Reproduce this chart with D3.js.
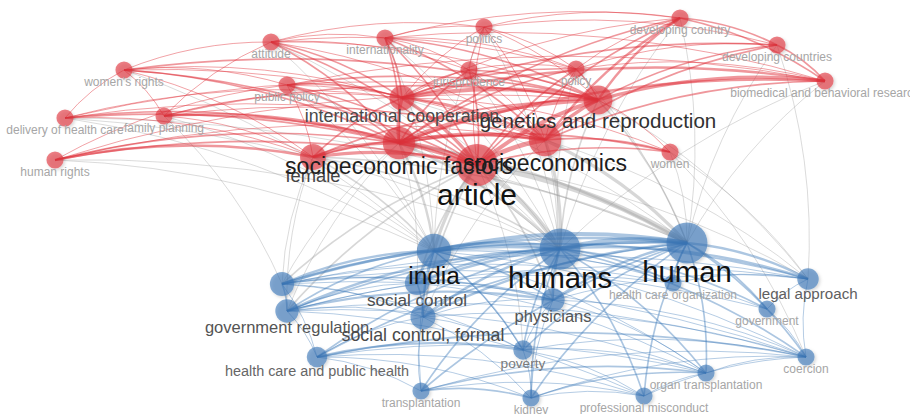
<!DOCTYPE html>
<html>
<head>
<meta charset="utf-8">
<script src="https://cdn.jsdelivr.net/npm/d3@7"></script>
<style>
  html, body { margin: 0; padding: 0; background: #fff; }
  svg { display: block; }
  text { font-family: "Liberation Sans", Arial, sans-serif; }
</style>
</head>
<body>
<script>
// node table (map coordinates, occurrences, cluster)
var nodeKeys = ['att','intl','pol','dcy','dcs','bio','wr','pp','jur','poly','ic','gr','dhc','fp','sef','fem','soc','art','wom','hr',
                'ind','hms','hmn','hco','leg','gov','coe','org','pm','kid','pov','phy','sc','scf','greg','law','hph','tra']
var nodeLabels = ['attitude','internationality','politics','developing country','developing countries','biomedical and behavioral research',
  "women's rights",'public policy','jurisprudence','policy','international cooperation','genetics and reproduction','delivery of health care',
  'family planning','socioeconomic factors','female','socioeconomics','article','women','human rights',
  'india','humans','human','health care organization','legal approach','government','coercion','organ transplantation',
  'professional misconduct','kidney','poverty','physicians','social control','social control, formal','government regulation',
  'legislation','health care and public health','transplantation']
var nodeX = [271,385,484,680,777,825,124,287,469,576,402,598,65,164,399,313,545,477,670,55,
             434,560,687,673,808,767,806,706,644,531,523,553,417,423,287,282,317,421]
var nodeY = [42,38,27,18,45,81,70,85,70,69,98,100,118,116,143,157,140,165,152,160,
             251,249,243,283,279,309,357,373,396,398,350,300,283,317,311,284,357,391]
var nodeWeight = [7,7,7,7,7,7,7,7,7,7,15,20,7,7,25,16,25,42,7,7,
                  28,40,40,7,11,7,7,7,7,7,9,13,14,15,13,14,10,7]
var nodeCluster = [1,1,1,1,1,1,1,1,1,1,1,1,1,1,1,1,1,1,1,1,
                   2,2,2,2,2,2,2,2,2,2,2,2,2,2,2,2,2,2]
var hiddenLabels = ['legislation']

// links [source, target, strength]
var redLinks = [
  ['art','sef',6],['art','soc',6],['art','ic',4],['art','gr',5],['art','fem',4],['sef','soc',5],['sef','ic',4],['sef','gr',6],
  ['sef','fem',4],['soc','gr',4],['soc','ic',3],['ic','gr',5],['gr','bio',4],['ic','bio',3],['sef','bio',3],['soc','bio',2],
  ['gr','dcy',3],['soc','dcy',3],['sef','dcy',2],['art','dcy',2],['gr','dcs',2],['soc','dcs',2],['ic','dcs',2],['dcy','dcs',2],
  ['dcs','bio',2],['dcy','bio',2],['dcy','pol',1],['dcy','intl',1],['att','intl',1],['att','ic',2],['att','sef',2],['att','art',2],
  ['att','soc',1],['att','gr',1],['att','wr',1],['att','fp',1],['att','pol',1],['intl','pol',1],['intl','ic',2],['intl','sef',2],
  ['intl','art',2],['intl','soc',2],['intl','gr',2],['intl','poly',1],['intl','bio',1],['pol','jur',1],['pol','art',1],['pol','soc',1],
  ['pol','gr',1],['pol','ic',1],['pol','poly',1],['pol','dcs',1],['jur','ic',2],['jur','sef',2],['jur','art',2],['jur','gr',2],
  ['jur','soc',1],['jur','poly',1],['poly','gr',2],['poly','sef',2],['poly','art',2],['poly','soc',1],['poly','ic',2],['poly','dcs',1],
  ['poly','bio',1],['pp','ic',2],['pp','sef',2],['pp','art',2],['pp','gr',2],['pp','soc',1],['pp','fem',1],['pp','hr',1],
  ['pp','bio',1],['pp','wr',1],['wr','ic',1],['wr','sef',2],['wr','art',2],['wr','gr',2],['wr','soc',1],['wr','fem',1],
  ['wr','fp',1],['wr','dhc',1],['fp','ic',1],['fp','sef',2],['fp','art',2],['fp','gr',2],['fp','soc',1],['fp','fem',1],
  ['dhc','sef',2],['dhc','art',2],['dhc','gr',1],['dhc','ic',1],['dhc','soc',1],['dhc','fem',1],['hr','fem',3],['hr','sef',2],
  ['hr','art',2],['hr','soc',1],['hr','gr',1],['wom','soc',2],['wom','sef',2],['wom','art',2],['wom','gr',1],['wom','ic',1],
  ['fem','gr',2],['fem','soc',2],['fem','ic',2],['att','jur',1],['att','poly',1],['intl','jur',1],['dcy','poly',1],['dcy','ic',1]
]
var crossLinks = [
  ['art','hms',6],['art','hmn',7],['art','ind',4],['soc','hmn',4],['soc','hms',4],['sef','hms',3],['sef','ind',3],['sef','hmn',3],
  ['fem','hms',2],['fem','ind',2],['fem','hmn',2],['gr','hmn',2],['gr','hms',2],['ic','hms',1],['ic','hmn',1],['art','phy',2],
  ['art','scf',2],['art','sc',2],['art','greg',2],['art','law',2],['art','pov',1],['art','leg',1],['soc','leg',1],['soc','phy',1],
  ['sef','greg',1],['sef','law',1],['fem','law',1],['fem','greg',1],['dhc','hms',1],['dhc','hmn',1],['dhc','ind',1],['hr','hms',1],
  ['hr','ind',1],['att','ind',1],['att','hms',1],['pp','hms',1],['pp','ind',1],['wom','hmn',1],['wom','leg',1],['wom','coe',1],
  ['dcs','hmn',1],['dcs','leg',1],['bio','hmn',1],['bio','hms',1],['dcy','hmn',1],['dcy','hms',1],['pol','ind',1],['pol','hms',1],
  ['jur','hms',1],['poly','hms',1],['poly','hmn',1],['intl','ind',1],['intl','hms',1],['gr','leg',1],['wr','ind',1],['fp','ind',1],
  ['fp','law',1],['soc','scf',1],['sef','sc',1]
]
var blueLinks = [
  ['ind','hms',6],['hms','hmn',6],['ind','hmn',5],['law','hmn',3],['law','ind',3],['law','hms',3],['greg','phy',3],['greg','hms',3],
  ['greg','hmn',2],['greg','ind',2],['hph','pov',3],['hph','coe',2],['hph','hms',2],['hph','hmn',2],['sc','hms',3],['sc','hmn',3],
  ['sc','ind',3],['scf','hms',3],['scf','hmn',3],['scf','ind',3],['sc','scf',2],['phy','hms',3],['phy','hmn',3],['phy','ind',2],
  ['leg','hmn',3],['leg','hms',3],['leg','ind',2],['leg','coe',1],['leg','gov',1],['gov','hmn',2],['gov','hms',2],['coe','hmn',2],
  ['coe','hms',2],['coe','ind',1],['org','hmn',2],['org','hms',2],['org','kid',2],['org','tra',2],['org','pm',1],['pm','hmn',2],
  ['pm','hms',2],['pm','kid',1],['kid','hms',2],['kid','hmn',2],['kid','tra',2],['tra','hms',2],['tra','hmn',2],['tra','ind',1],
  ['pov','hms',2],['pov','hmn',2],['pov','ind',2],['hco','hms',2],['hco','hmn',2],['hco','ind',1],['law','greg',2],['law','phy',2],
  ['law','sc',1],['law','scf',1],['law','leg',1],['law','coe',1],['law','hph',1],['greg','scf',1],['greg','sc',1],['greg','hph',1],
  ['greg','coe',1],['greg','leg',1],['hph','scf',1],['hph','kid',1],['hph','tra',1],['hph','org',1],['hph','pm',1],['sc','phy',1],
  ['scf','phy',1],['scf','pov',1],['scf','coe',1],['phy','pov',1],['phy','leg',1],['phy','coe',1],['pov','coe',1],['pov','org',1],
  ['pov','kid',1],['pov','pm',1],['tra','pm',1],['tra','coe',1],['kid','coe',1],['pm','coe',1],['org','coe',1],['gov','coe',1],
  ['gov','ind',1],['gov','law',1],['hco','law',1],['hco','leg',1],['hco','greg',1],['greg','org',1],['greg','pm',1],['law','pov',1],
  ['sc','org',1],['scf','kid',1],['scf','tra',1],['phy','org',1],['phy','kid',1],['ind','org',1],['ind','pov',1]
]

var width = 910, height = 414
var clusterColor = { 1: '#e0303a', 2: '#3a78b8' }

var nodes = nodeKeys.map(function(k, i) {
  return { key: k, label: nodeLabels[i], x: nodeX[i], y: nodeY[i], w: nodeWeight[i], c: nodeCluster[i] }
})
var byKey = {}
nodes.forEach(function(n) { byKey[n.key] = n })

var x = d3.scaleLinear().domain([0, 910]).range([0, width])
var y = d3.scaleLinear().domain([0, 414]).range([0, height])
var r = d3.scaleSqrt().domain([0, 42]).range([0, 21])
var fontSize = d3.scaleSqrt().domain([7, 42]).range([12, 30])
var labelColor = d3.scaleSqrt().domain([7, 10, 16, 28]).range(['#a6a6a6', '#666', '#444', '#111']).clamp(true)
var linkW = d3.scaleLinear().domain([1, 7]).range([0.9, 5.5])

var svg = d3.select('body').append('svg')
  .attr('width', width)
  .attr('height', height)

var defs = svg.append('defs')
var f = defs.append('filter').attr('id', 'shadow')
  .attr('x', '-50%').attr('y', '-50%').attr('width', '200%').attr('height', '200%')
f.append('feDropShadow').attr('dx', 1.5).attr('dy', 1.5).attr('stdDeviation', 1.8)
  .attr('flood-color', '#000').attr('flood-opacity', 0.25)

function linkPath(l) {
  var a = byKey[l[0]], b = byKey[l[1]]
  if (x(a.x) > x(b.x)) { var t = a; a = b; b = t }
  var x1 = x(a.x), y1 = y(a.y), x2 = x(b.x), y2 = y(b.y)
  var dx = x2 - x1, dy = y2 - y1
  var k = 0.1
  var cx = (x1 + x2)/2 + dy * k
    , cy = (y1 + y2)/2 - dx * k
  return 'M' + x1 + ',' + y1 + 'Q' + cx + ',' + cy + ' ' + x2 + ',' + y2
}

function drawLinks(list, color, op) {
  svg.append('g').selectAll('path').data(list).enter()
    .append('path')
    .attr('d', linkPath)
    .attr('fill', 'none')
    .attr('stroke', color)
    .attr('stroke-opacity', op)
    .attr('stroke-width', function(d) { return linkW(d[2]) })
}
drawLinks(crossLinks, '#9a9a9a', 0.4)
drawLinks(blueLinks, clusterColor[2], 0.42)
drawLinks(redLinks, clusterColor[1], 0.5)

svg.append('g').selectAll('circle').data(nodes).enter()
  .append('circle')
  .attr('cx', function(d) { return x(d.x) })
  .attr('cy', function(d) { return y(d.y) })
  .attr('r', function(d) { return r(d.w) })
  .attr('fill', function(d) { return clusterColor[d.c] })
  .attr('fill-opacity', 0.62)
  .attr('filter', 'url(#shadow)')

var shown = nodes.filter(function(d) { return hiddenLabels.indexOf(d.label) < 0 })
  .sort(function(a, b) { return a.w - b.w })

svg.append('g').selectAll('text').data(shown).enter()
  .append('text')
  .attr('x', function(d) { return x(d.x) })
  .attr('y', function(d) { return y(d.y) + r(d.w) + fontSize(d.w) * 0.64 })
  .attr('text-anchor', 'middle')
  .attr('font-size', function(d) { return fontSize(d.w) })
  .attr('fill', function(d) { return labelColor(d.w) })
  .text(function(d) { return d.label })
</script>
</body>
</html>
